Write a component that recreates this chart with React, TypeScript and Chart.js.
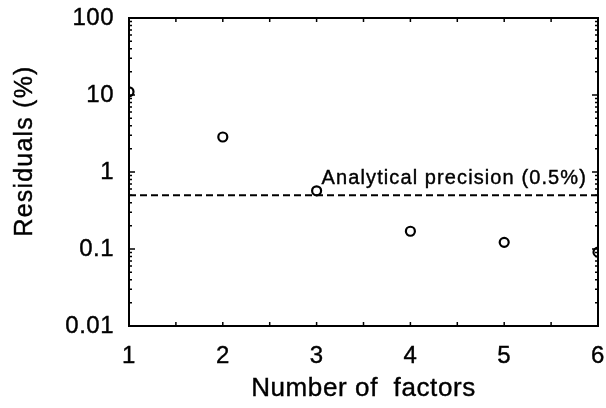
import React, { useEffect, useRef } from 'react';
import { Chart, registerables } from 'chart.js';

Chart.register(...registerables);

// ---- data ----
const factors = [1, 2, 3, 4, 5, 6];
const residuals = [11, 2.85, 0.57, 0.17, 0.122, 0.091];
const precision = 0.5;
const precisionLabel = 'Analytical precision (0.5%)';
const xTitle = 'Number of  factors';
const yTitle = 'Residuals (%)';
const yMajorTicks = [0.01, 0.1, 1, 10, 100];
const xMinorStep = 0.5;

const FONT = '"Liberation Sans", Arial, Helvetica, sans-serif';

function drawText(ctx: CanvasRenderingContext2D, s: string, x: number, y: number) {
  ctx.fillText(s, x, y);
  ctx.strokeText(s, x, y);
}

const framePlugin = {
  id: 'frame',
  beforeDraw(chart: any) {
    chart.ctx.letterSpacing = '0.5px';
  },
  afterDraw(chart: any) {
    const { ctx, chartArea: a, scales } = chart;
    const x = scales.x;
    const y = scales.y;
    ctx.save();
    ctx.strokeStyle = '#000';
    ctx.lineWidth = 2;
    ctx.strokeRect(a.left, a.top, a.right - a.left, a.bottom - a.top);

    // inner tick marks on x (top & bottom)
    ctx.lineWidth = 1.5;
    ctx.beginPath();
    for (let v = factors[0]; v <= factors[factors.length - 1] + 1e-9; v += xMinorStep) {
      const px = x.getPixelForValue(v);
      ctx.moveTo(px, a.bottom);
      ctx.lineTo(px, a.bottom - 4);
      ctx.moveTo(px, a.top);
      ctx.lineTo(px, a.top + 4);
    }
    // inner tick marks on y (left & right), log minor ticks
    for (let d = 0; d < yMajorTicks.length; d++) {
      const base = yMajorTicks[d];
      const maxM = d === yMajorTicks.length - 1 ? 1 : 9;
      for (let m = 1; m <= maxM; m++) {
        const py = y.getPixelForValue(base * m);
        const len = m === 1 ? 6 : 3;
        ctx.moveTo(a.left, py);
        ctx.lineTo(a.left + len, py);
        ctx.moveTo(a.right, py);
        ctx.lineTo(a.right - len, py);
      }
    }
    ctx.stroke();

    ctx.fillStyle = '#000';
    ctx.lineWidth = 0.4;
    // annotation
    ctx.font = `20px ${FONT}`;
    ctx.letterSpacing = '1.1px';
    ctx.textAlign = 'left';
    ctx.textBaseline = 'alphabetic';
    drawText(ctx, precisionLabel, x.getPixelForValue(3) + 5, y.getPixelForValue(precision) - 11);

    // x title
    ctx.font = `26px ${FONT}`;
    ctx.letterSpacing = '0.6px';
    ctx.textAlign = 'center';
    drawText(ctx, xTitle, (a.left + a.right) / 2, 396);

    // y title
    ctx.font = `25px ${FONT}`;
    ctx.letterSpacing = '1.2px';
    ctx.translate(32, 151);
    ctx.rotate(-Math.PI / 2);
    drawText(ctx, yTitle, 0, 0);
    ctx.restore();
  },
};

export default function App() {
  const ref = useRef<HTMLCanvasElement | null>(null);
  useEffect(() => {
    if (!ref.current) return;
    const chart = new Chart(ref.current, {
      type: 'scatter',
      data: {
        datasets: [
          {
            type: 'line',
            label: 'precision',
            data: [
              { x: factors[0], y: precision },
              { x: factors[factors.length - 1], y: precision },
            ],
            borderColor: '#000',
            borderWidth: 2,
            borderDash: [7, 4],
            pointRadius: 0,
            fill: false,
          } as any,
          {
            type: 'scatter',
            label: 'residuals',
            data: factors.map((f, i) => ({ x: f, y: residuals[i] })),
            pointRadius: 4.5,
            pointBorderWidth: 2.2,
            borderColor: '#000',
            backgroundColor: 'rgba(0,0,0,0)',
            pointBackgroundColor: 'rgba(0,0,0,0)',
            pointBorderColor: '#000',
          },
        ],
      },
      options: {
        responsive: false,
        animation: false,
        devicePixelRatio: 1,
        layout: { padding: { top: 18, right: 8, left: 0, bottom: 0 } },
        plugins: { legend: { display: false }, tooltip: { enabled: false } },
        scales: {
          x: {
            type: 'linear',
            min: factors[0],
            max: factors[factors.length - 1],
            grid: { display: false, drawTicks: false },
            border: { display: false },
            ticks: {
              stepSize: 1,
              autoSkip: false,
              maxRotation: 0,
              padding: 16,
              color: '#000',
              textStrokeColor: '#000',
              textStrokeWidth: 0.4,
              font: { size: 24, family: FONT },
            },
            afterFit: (s: any) => {
              s.height = 82;
              s.paddingLeft = 0;
              s.paddingRight = 0;
            },
          },
          y: {
            type: 'logarithmic',
            min: yMajorTicks[0],
            max: yMajorTicks[yMajorTicks.length - 1],
            grid: { display: false, drawTicks: false },
            border: { display: false },
            afterBuildTicks: (s: any) => {
              s.ticks = yMajorTicks.map((v) => ({ value: v }));
            },
            ticks: {
              padding: 15,
              color: '#000',
              textStrokeColor: '#000',
              textStrokeWidth: 0.4,
              font: { size: 24, family: FONT },
              callback: (v: any) => String(v),
            },
            afterFit: (s: any) => {
              s.width = 129;
              s.paddingTop = 0;
              s.paddingBottom = 0;
            },
          },
        },
      },
      plugins: [framePlugin],
    });
    return () => chart.destroy();
  }, []);
  return (
    <div style={{ position: 'fixed', left: 0, top: 0, width: 606, height: 408, background: '#fff' }}>
      <canvas ref={ref} width={606} height={408} />
    </div>
  );
}
